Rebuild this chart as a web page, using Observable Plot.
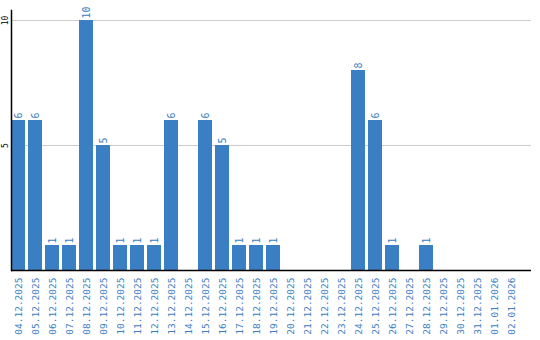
<!DOCTYPE html>
<html>
<head>
<meta charset="utf-8">
<script src="https://cdn.jsdelivr.net/npm/d3@7"></script>
<script src="https://cdn.jsdelivr.net/npm/@observablehq/plot@0.6"></script>
<style>
  html, body { margin: 0; padding: 0; background: #fff; }
  svg { display: block; }
</style>
</head>
<body>
<div id="chart"></div>
<script>
const dates = ["04.12.2025","05.12.2025","06.12.2025","07.12.2025","08.12.2025","09.12.2025","10.12.2025","11.12.2025","12.12.2025","13.12.2025","14.12.2025","15.12.2025","16.12.2025","17.12.2025","18.12.2025","19.12.2025","20.12.2025","21.12.2025","22.12.2025","23.12.2025","24.12.2025","25.12.2025","26.12.2025","27.12.2025","28.12.2025","29.12.2025","30.12.2025","31.12.2025","01.01.2026","02.01.2026"];
const values = [6,6,1,1,10,5,1,1,1,6,0,6,5,1,1,1,0,0,0,0,8,6,1,0,1,0,0,0,0,0];
const yTicks = [5, 10];

const data = dates.map((d, i) => ({date: d, value: values[i]}));
const nonZero = data.filter(d => d.value > 0);
const blue = "#3a7ec3";
const font = "DejaVu Sans Mono, monospace";

const chart = Plot.plot({
  width: 540,
  height: 340,
  marginLeft: 11,
  marginRight: 9,
  marginTop: 10,
  marginBottom: 70,
  style: {fontFamily: font, fontSize: "9.5px", background: "#fff"},
  x: {type: "band", domain: dates, range: [11, 518], paddingInner: 3/17, paddingOuter: 0, axis: null},
  y: {domain: [0, 10.4], axis: null},
  marks: [
    Plot.ruleY(yTicks, {stroke: "#cccccc", strokeWidth: 1}),
    Plot.barY(nonZero, {x: "date", y: "value", fill: blue}),
    Plot.text(nonZero, {x: "date", y: "value", text: d => String(d.value), dy: -2, rotate: -90, textAnchor: "start", lineAnchor: "middle", fill: blue, fontSize: 10}),
    Plot.text(dates, {x: d => d, frameAnchor: "bottom", dy: 7, rotate: -90, textAnchor: "end", lineAnchor: "middle", fill: blue}),
    Plot.text(yTicks, {y: d => d, frameAnchor: "left", dx: -6, rotate: -90, textAnchor: "middle", lineAnchor: "middle", fill: "#000", fontSize: 8}),
    Plot.ruleY([0], {stroke: "#000", strokeWidth: 1.5}),
    Plot.frame({anchor: "left", stroke: "#000", strokeWidth: 1.5})
  ]
});
document.getElementById("chart").appendChild(chart);
</script>
</body>
</html>
